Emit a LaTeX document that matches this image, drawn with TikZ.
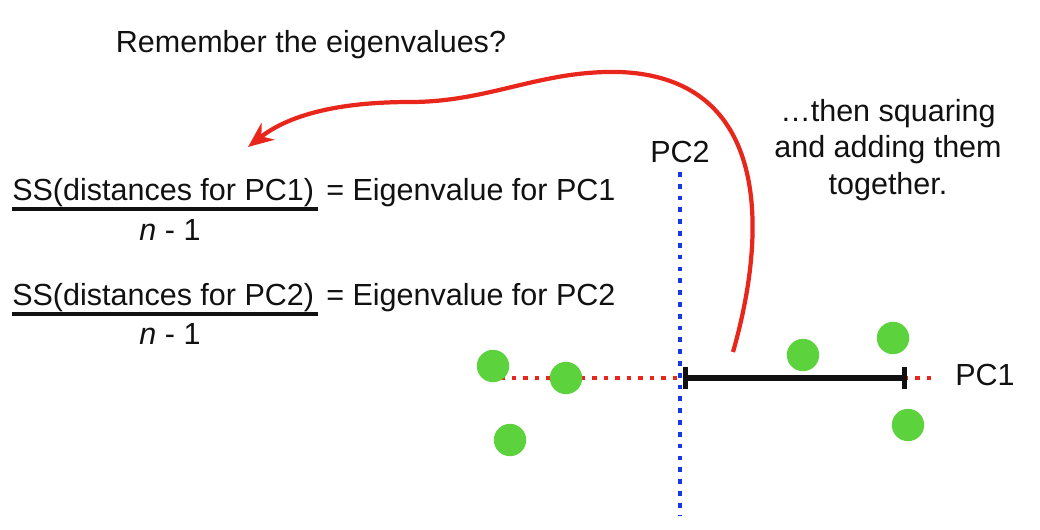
\documentclass[tikz,border=0pt]{standalone}
\usepackage{fontspec}
\setmainfont{Liberation Sans}
\usepackage{tikz}
\usetikzlibrary{arrows.meta,positioning}
\definecolor{pcagreen}{HTML}{5CD23C}
\definecolor{pcared}{HTML}{E8261C}
\definecolor{pcablue}{HTML}{1438E6}
\definecolor{pcadark}{HTML}{111111}
\tikzset{
  txt/.style={inner sep=0pt,font=\fontsize{21.7}{26}\selectfont,text=pcadark},
  fracbar/.style={draw=pcadark,line width=2.6pt},
  pt/.style={circle,fill=pcagreen,inner sep=0pt,minimum size=23pt},
  axisblue/.style={draw=pcablue,line width=3.4pt,dash pattern=on 3.4pt off 5pt},
  axisred/.style={draw=pcared,line width=3.2pt,dash pattern=on 3.2pt off 5pt},
  dist/.style={draw=pcadark,line width=3.6pt,{Bar[width=16pt]}-{Bar[width=16pt]}},
  callout/.style={draw=pcared,line width=3pt,-{Stealth[length=18pt,width=15pt]}},
}
\begin{document}
\begin{tikzpicture}[x=0.025cm,y=-0.025cm]
  \useasboundingbox (0,0) rectangle (1040,529);
  % question
  \node[txt] (ask) at (311,45) {Remember the eigenvalues?};
  % first ratio
  \node[txt,anchor=base west] (num1) at (12,200) {SS(distances for PC1)};
  \draw[fracbar] (12,209) coordinate (bar1l) -- (318,209) coordinate (bar1r);
  \node[txt,anchor=base] (den1) at (170,240) {\textit{n} - 1};
  \node[txt,anchor=base west] (eq1) at (326,200) {= Eigenvalue for PC1};
  % second ratio
  \node[txt,anchor=base west] (num2) at (12,305) {SS(distances for PC2)};
  \draw[fracbar] (12,314) coordinate (bar2l) -- (318,314) coordinate (bar2r);
  \node[txt,anchor=base] (den2) at (170,344) {\textit{n} - 1};
  \node[txt,anchor=base west] (eq2) at (326,305) {= Eigenvalue for PC2};
  % axes
  \coordinate (pc2top) at (680,172);
  \coordinate (pc2bot) at (680,516);
  \coordinate (pc1lft) at (500,378);
  \coordinate (pc1rgt) at (932,378);
  \draw[axisred] (pc1lft) -- (pc1rgt);
  \draw[axisblue] (pc2top) -- (pc2bot);
  \node[txt] (pc2) at (680,152) {PC2};
  \node[txt] (pc1) at (985,375) {PC1};
  % distance along PC1
  \coordinate (orig) at (683,378);
  \coordinate (proj) at (907,378);
  \draw[dist] (orig) -- (proj);
  % data points
  \node[pt] (p1) at (493,366) {};
  \node[pt] (p2) at (566,378) {};
  \node[pt] (p3) at (510,440) {};
  \node[pt] (p4) at (803,355) {};
  \node[pt] (p5) at (893,338) {};
  \node[pt] (p6) at (908,425) {};
  % note
  \node[txt,align=center] (note) at (888,150) {\dots then squaring\\and adding them\\together.};
  % callout arrow
  \coordinate (from) at (733,352);
  \coordinate (to) at (248,147);
  \draw[callout] (from) .. controls (768,230) and (770,78) .. (620,72)
    .. controls (540,70) and (490,102) .. (410,102)
    .. controls (330,102) and (285,118) .. (to);
\end{tikzpicture}
\end{document}
